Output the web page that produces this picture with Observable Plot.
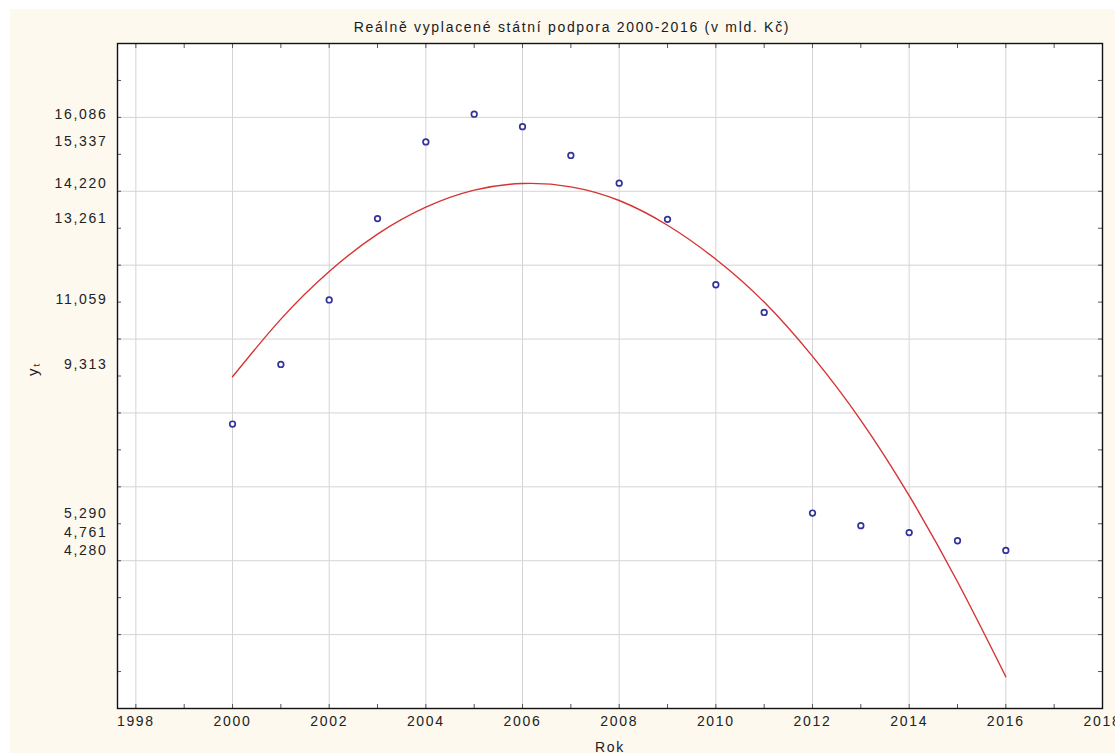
<!DOCTYPE html>
<html><head><meta charset="utf-8">
<script src="https://cdn.jsdelivr.net/npm/d3@7"></script>
<script src="https://cdn.jsdelivr.net/npm/@observablehq/plot@0.6"></script>
<style>
body{margin:0;background:#fff;}
#bg{position:absolute;left:10px;top:9px;width:1105px;height:744px;background:#fdf9ef;}
#chart{position:absolute;left:0;top:0;}
</style></head>
<body><div id="bg"></div><div id="chart"></div>
<script>
const title = "Reálně vyplacené státní podpora 2000-2016 (v mld. Kč)";
const xLabel = "Rok";
const yLabel = "yₜ";
const years = [2000,2001,2002,2003,2004,2005,2006,2007,2008,2009,2010,2011,2012,2013,2014,2015,2016];
const values = [7.70,9.313,11.059,13.261,15.337,16.086,15.75,14.97,14.220,13.24,11.47,10.72,5.290,4.95,4.761,4.54,4.280];
const fitted = [8.98,10.54,11.83,12.84,13.57,14.03,14.21,14.12,13.75,13.08,12.16,11.00,9.53,7.80,5.76,3.43,0.86];
const yTickValues = [16.086,15.337,14.220,13.261,11.059,9.313,5.290,4.761,4.280];
const xTickValues = [1998,2000,2002,2004,2006,2008,2010,2012,2014,2016,2018];
const xMinorTicks = [1998,1999,2000,2001,2002,2003,2004,2005,2006,2007,2008,2009,2010,2011,2012,2013,2014,2015,2016,2017];
const yGrid = [2,4,6,8,10,12,14,16];
const yMinorTicks = [1,2,3,4,5,6,7,8,9,10,11,12,13,14,15,16,17];

const data = years.map((y,i)=>({year:y, value:values[i], fit:fitted[i]}));
const fmt = d => d.toFixed(3).replace(".", ",");

const chart = Plot.plot({
  width: 1115, height: 753,
  marginLeft: 117, marginRight: 13, marginTop: 43, marginBottom: 45,
  style: {background: "transparent", fontFamily: "Arial, 'Liberation Sans', sans-serif", fontSize: "14px", letterSpacing: "1.7px", color: "#222", overflow: "visible"},
  x: {domain: [1997.62, 2018]},
  y: {domain: [0, 18]},
  marks: [
    Plot.frame({fill: "white"}),
    Plot.gridX(xTickValues.filter(d => d > 1997.62 && d < 2018), {stroke: "#d4d4d4", strokeOpacity: 1}),
    Plot.gridY(yGrid, {stroke: "#d4d4d4", strokeOpacity: 1}),
    Plot.axisX(xTickValues, {tickSize: 0, tickPadding: 8, label: null, tickFormat: d => String(d), fill: "#222"}),
    Plot.axisX(xMinorTicks, {anchor: "bottom", tickSize: -4, text: null, label: null, stroke: "#555"}),
    Plot.axisX(xMinorTicks, {anchor: "top", tickSize: -4, text: null, label: null, stroke: "#555"}),
    Plot.axisY(yTickValues, {tickSize: 0, tickPadding: 10, label: null, tickFormat: fmt, fill: "#222"}),
    Plot.axisY(yMinorTicks, {anchor: "left", tickSize: -4, text: null, label: null, stroke: "#555"}),
    Plot.axisY(yMinorTicks, {anchor: "right", tickSize: -5, text: null, label: null, stroke: "#555"}),
    Plot.line(data, {x: "year", y: "fit", stroke: "#d63333", strokeWidth: 1.4, curve: "natural"}),
    Plot.dot(data, {x: "year", y: "value", r: 2.8, stroke: "#33339a", strokeWidth: 1.7, fill: "white"}),
    Plot.frame({stroke: "#111", strokeWidth: 1.4}),
    Plot.text([title], {frameAnchor: "top", lineAnchor: "middle", dx: -38, dy: -16, fontSize: 14, fill: "#1a1a1a"}),
    Plot.text([xLabel], {frameAnchor: "bottom", lineAnchor: "middle", dy: 39, fontSize: 14, fill: "#222"}),
    Plot.text([yLabel], {frameAnchor: "left", lineAnchor: "middle", dx: -84, rotate: -90, fontSize: 15, fill: "#222"})
  ]
});
document.getElementById("chart").append(chart);
</script>
</body></html>
